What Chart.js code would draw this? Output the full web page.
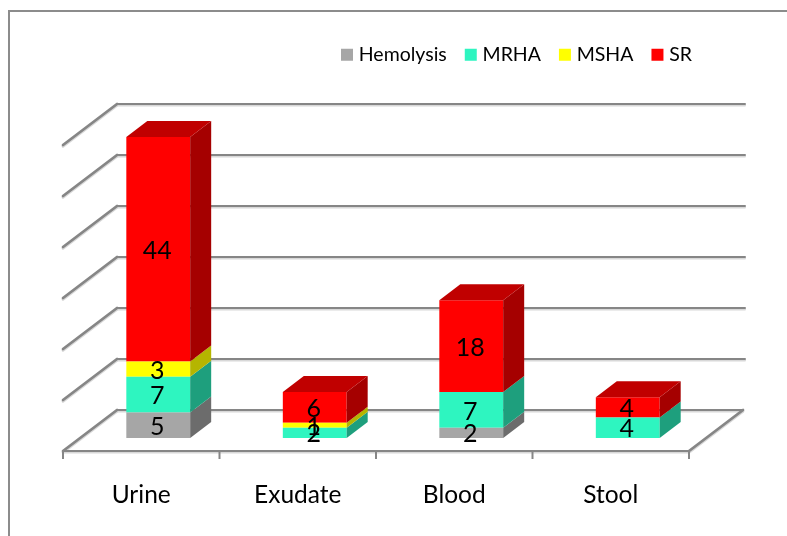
<!DOCTYPE html>
<html>
<head>
<meta charset="utf-8">
<title>Isolates by specimen</title>
<script src="https://cdn.jsdelivr.net/npm/chart.js@4"></script>
<style>
  html,body{margin:0;padding:0;background:#fff;overflow:hidden;}
  #wrap{position:relative;width:787px;height:536px;}
  #frame{position:absolute;left:8px;top:10px;right:0;bottom:0;border-left:2px solid #8c8c8c;border-top:2px solid #8c8c8c;}
  canvas{position:absolute;left:0;top:0;}
</style>
</head>
<body>
<div id="wrap">
  <div id="frame"></div>
  <canvas id="myChart" width="787" height="536"></canvas>
</div>
<script>
// values
var categories=["Urine","Exudate","Blood","Stool"];
var hemolysis=[5,null,2,null];
var mrha=[7,2,7,4];
var msha=[3,1,null,null];
var sr=[44,6,18,4];
var yMax=60;
var yStep=10;

var frontColors=["#a6a6a6","#2ef5c0","#ffff00","#ff0000"];
var sideColors=["#6c6c6c","#1e9f7d","#b5b500","#a50000"];
var topColors=["#8a8a8a","#26c79c","#d9d900","#c00000"];
var gridColor="#868686";

// 3d offsets, relative to the plane of the bar fronts
var backDx=37, backDy=-28;
var frontDx=-17, frontDy=13;
var barDx=21, barDy=-16;

function strokeLine(ctx,x1,y1,x2,y2,width){
  ctx.lineWidth=width;
  ctx.beginPath();
  ctx.moveTo(x1,y1);
  ctx.lineTo(x2,y2);
  ctx.stroke();
}

var walls={
  id:"walls",
  beforeDatasetsDraw:function(chart){
    var ctx=chart.ctx, xs=chart.scales.x, ys=chart.scales.y;
    var left=xs.left, right=xs.right;
    ctx.save();
    ctx.strokeStyle=gridColor;
    ctx.lineCap="round";
    ctx.shadowColor="#d8d8d8";
    ctx.shadowOffsetY=1.5;
    ys.ticks.forEach(function(t){
      var y=ys.getPixelForValue(t.value);
      strokeLine(ctx,left+backDx,y+backDy,right+backDx+(t.value>0?2:0),y+backDy,2);
      strokeLine(ctx,left+frontDx,y+frontDy,left+backDx,y+backDy,2.8);
    });
    // floor front edge and right edge
    var y0=ys.getPixelForValue(0);
    strokeLine(ctx,left+frontDx,y0+frontDy,right+frontDx,y0+frontDy,2);
    strokeLine(ctx,right+frontDx,y0+frontDy,right+backDx,y0+backDy,2.8);
    // category ticks
    ctx.shadowColor="transparent";
    ctx.lineCap="butt";
    var band=(right-left)/categories.length;
    for(var i=0;i<=categories.length;i++){
      var px=left+frontDx+band*i;
      strokeLine(ctx,px,y0+frontDy,px,y0+frontDy+8,2);
    }
    ctx.restore();
  }
};

var boxes={
  id:"boxes",
  afterDatasetsDraw:function(chart){
    var ctx=chart.ctx;
    var sets=chart.data.datasets;
    ctx.save();
    // side faces
    sets.forEach(function(ds,d){
      chart.getDatasetMeta(d).data.forEach(function(bar,i){
        if(ds.data[i]==null) return;
        var r=bar.x+bar.width/2;
        ctx.fillStyle=sideColors[d];
        ctx.beginPath();
        ctx.moveTo(r,bar.y);
        ctx.lineTo(r+barDx,bar.y+barDy);
        ctx.lineTo(r+barDx,bar.base+barDy);
        ctx.lineTo(r,bar.base);
        ctx.closePath();
        ctx.fill();
      });
    });
    // top face, only the last segment of each stack
    categories.forEach(function(c,i){
      for(var d=sets.length-1;d>=0;d--){
        if(sets[d].data[i]==null) continue;
        var bar=chart.getDatasetMeta(d).data[i];
        var l=bar.x-bar.width/2, r=bar.x+bar.width/2;
        ctx.fillStyle=topColors[d];
        ctx.beginPath();
        ctx.moveTo(l,bar.y);
        ctx.lineTo(l+barDx,bar.y+barDy);
        ctx.lineTo(r+barDx,bar.y+barDy);
        ctx.lineTo(r,bar.y);
        ctx.closePath();
        ctx.fill();
        break;
      }
    });
    // value labels
    ctx.fillStyle="#000";
    ctx.font="25px Lato";
    ctx.textAlign="center";
    ctx.textBaseline="middle";
    sets.forEach(function(ds,d){
      chart.getDatasetMeta(d).data.forEach(function(bar,i){
        if(ds.data[i]==null) return;
        ctx.fillText(ds.data[i],bar.x-1,(bar.y+bar.base)/2+1.5);
      });
    });
    ctx.restore();
  }
};

// legend sits over the right part of the plot, not centred on it
var moveLegend={
  id:"moveLegend",
  afterLayout:function(chart){
    chart.legend.left=323;
    chart.legend.right=chart.legend.left+chart.legend.width;
    chart.legend.top=23;
  }
};

new Chart(document.getElementById("myChart"),{
  type:"bar",
  plugins:[walls,boxes,moveLegend],
  data:{
    labels:categories,
    datasets:[
      {label:"Hemolysis",data:hemolysis,backgroundColor:frontColors[0]},
      {label:"MRHA",data:mrha,backgroundColor:frontColors[1]},
      {label:"MSHA",data:msha,backgroundColor:frontColors[2]},
      {label:"SR",data:sr,backgroundColor:frontColors[3]}
    ]
  },
  options:{
    responsive:false,
    animation:false,
    layout:{padding:{left:80,right:81,top:80.5,bottom:18}},
    datasets:{bar:{categoryPercentage:1,barPercentage:0.408}},
    plugins:{
      legend:{
        position:"top",
        align:"start",
        onClick:null,
        labels:{
          // small box plus a thick stroke, keeps the text close to the swatch
          boxWidth:4,
          boxHeight:4,
          padding:22,
          color:"#000",
          font:{family:"Lato",size:19.5},
          generateLabels:function(chart){
            var items=Chart.defaults.plugins.legend.labels.generateLabels(chart);
            items.forEach(function(it){
              it.lineWidth=8;
              it.strokeStyle=it.fillStyle;
              it.lineJoin="miter";
            });
            return items;
          }
        }
      },
      tooltip:{enabled:false}
    },
    scales:{
      x:{
        stacked:true,
        grid:{display:false,drawTicks:false},
        border:{display:false},
        afterFit:function(scale){scale.height=80;},
        ticks:{labelOffset:frontDx,padding:42,color:"#000",font:{family:"Lato",size:24.5},maxRotation:0}
      },
      y:{
        stacked:true,
        display:false,
        min:0,
        max:yMax,
        ticks:{stepSize:yStep}
      }
    }
  }
});
</script>
</body>
</html>
